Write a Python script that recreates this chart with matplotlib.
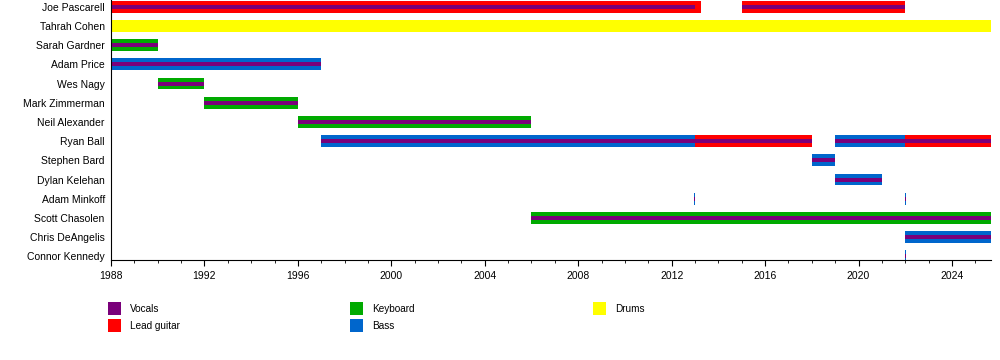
import matplotlib
matplotlib.use("Agg")
import matplotlib.pyplot as plt
from matplotlib.patches import Rectangle
from matplotlib.ticker import MultipleLocator

plt.rcParams['font.family'] = ['Liberation Sans', 'DejaVu Sans']

members = ["Joe Pascarell", "Tahrah Cohen", "Sarah Gardner", "Adam Price", "Wes Nagy",
           "Mark Zimmerman", "Neil Alexander", "Ryan Ball", "Stephen Bard", "Dylan Kelehan",
           "Adam Minkoff", "Scott Chasolen", "Chris DeAngelis", "Connor Kennedy"]

roles = ["Vocals", "Lead guitar", "Keyboard", "Bass", "Drums"]
role_colors = {"Vocals": "#7a007a", "Lead guitar": "#ff0000", "Keyboard": "#00aa00",
               "Bass": "#0066cc", "Drums": "#ffff00"}

start_year = 1988
end_year = 2025.67

# (member, instrument, start, end)
stints = [
    ("Joe Pascarell", "Lead guitar", 1988, 2013.25),
    ("Joe Pascarell", "Lead guitar", 2015, 2022),
    ("Tahrah Cohen", "Drums", 1988, end_year),
    ("Sarah Gardner", "Keyboard", 1988, 1990),
    ("Adam Price", "Bass", 1988, 1997),
    ("Wes Nagy", "Keyboard", 1990, 1992),
    ("Mark Zimmerman", "Keyboard", 1992, 1996),
    ("Neil Alexander", "Keyboard", 1996, 2006),
    ("Ryan Ball", "Bass", 1997, 2013),
    ("Ryan Ball", "Lead guitar", 2013, 2018),
    ("Ryan Ball", "Bass", 2019, 2022),
    ("Ryan Ball", "Lead guitar", 2022, end_year),
    ("Stephen Bard", "Bass", 2018, 2019),
    ("Dylan Kelehan", "Bass", 2019, 2021),
    ("Adam Minkoff", "Bass", 2012.97, 2013.02),
    ("Adam Minkoff", "Bass", 2021.97, 2022.02),
    ("Scott Chasolen", "Keyboard", 2006, end_year),
    ("Chris DeAngelis", "Bass", 2022, end_year),
    ("Connor Kennedy", "Bass", 2021.97, 2022.02),
]

# vocal stints (member, start, end)
vocals = [
    ("Joe Pascarell", 1988, 2013),
    ("Joe Pascarell", 2015, 2022),
    ("Sarah Gardner", 1988, 1990),
    ("Adam Price", 1988, 1997),
    ("Wes Nagy", 1990, 1992),
    ("Mark Zimmerman", 1992, 1996),
    ("Neil Alexander", 1996, 2006),
    ("Ryan Ball", 1997, 2018),
    ("Ryan Ball", 2019, end_year),
    ("Stephen Bard", 2018, 2019),
    ("Dylan Kelehan", 2019, 2021),
    ("Adam Minkoff", 2012.97, 2013.02),
    ("Adam Minkoff", 2021.97, 2022.02),
    ("Scott Chasolen", 2006, end_year),
    ("Chris DeAngelis", 2022, end_year),
    ("Connor Kennedy", 2021.97, 2022.02),
]

fig = plt.figure(figsize=(10, 3.6), dpi=100)
ax = fig.add_axes([0.111, 1 - 260 / 360, 0.880, 260 / 360])

row = {m: i for i, m in enumerate(members)}

for m, inst, s, e in stints:
    ax.barh(row[m], e - s, left=s, height=0.62, color=role_colors[inst], linewidth=0)
for m, s, e in vocals:
    ax.barh(row[m], e - s, left=s, height=0.21, color=role_colors["Vocals"], linewidth=0)

ax.set_xlim(start_year, end_year)
ax.set_ylim(13.19, -0.35)
ax.set_yticks(range(len(members)))
ax.set_yticklabels(members, fontsize=7.5)
ax.tick_params(axis='y', length=0, pad=4.5)
ax.xaxis.set_major_locator(MultipleLocator(4))
ax.xaxis.set_minor_locator(MultipleLocator(1))
ax.tick_params(axis='x', which='major', length=4, labelsize=7.5, pad=4)
ax.tick_params(axis='x', which='minor', length=2)
for sp in ["top", "right"]:
    ax.spines[sp].set_visible(False)

# legend drawn as boxes below the chart, three columns
legend_cols = [["Vocals", "Lead guitar"], ["Keyboard", "Bass"], ["Drums"]]
col_x = [108, 350, 593]
for ci, names in enumerate(legend_cols):
    for ri, name in enumerate(names):
        y0 = 302 + ri * 17
        fig.add_artist(Rectangle((col_x[ci] / 1000, 1 - (y0 + 13) / 360), 13 / 1000, 13 / 360,
                                 transform=fig.transFigure, color=role_colors[name], linewidth=0))
        fig.text((col_x[ci] + 22) / 1000, 1 - (y0 + 7) / 360, name, fontsize=7.2, va='center')

fig.savefig("out.png", dpi=100)
